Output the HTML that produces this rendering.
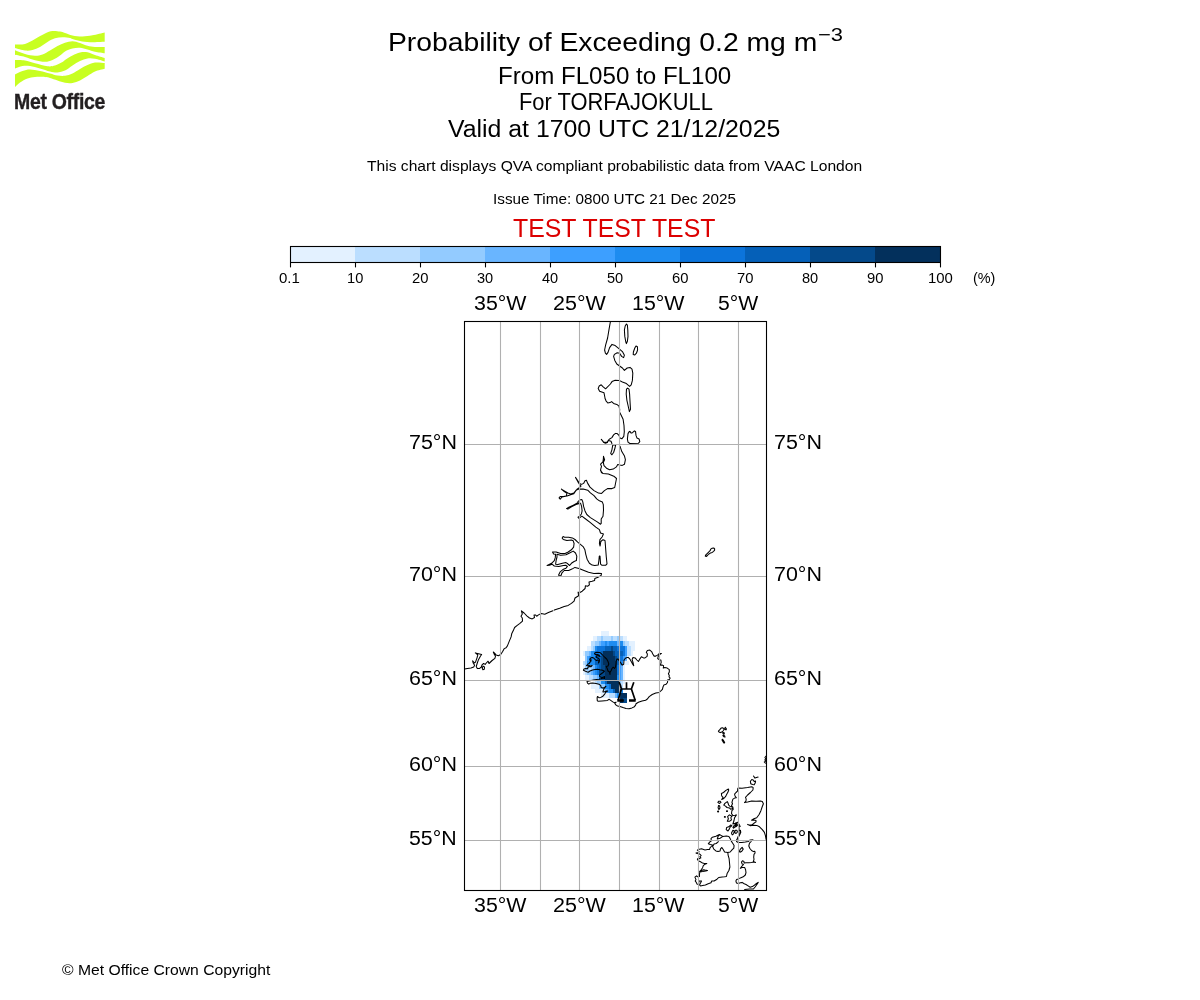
<!DOCTYPE html>
<html><head><meta charset="utf-8"><title>Probability of Exceeding 0.2 mg m-3</title>
<style>
html,body{margin:0;padding:0;background:#fff}
body{width:1200px;height:1000px;position:relative;overflow:hidden;font-family:"Liberation Sans",sans-serif}
.t{position:absolute;white-space:nowrap;line-height:1;transform-origin:0 0}
.txt{position:absolute;left:0;top:0;width:1200px;height:1000px;will-change:transform}
svg{position:absolute;left:0;top:0}
.logo{position:absolute;left:13.6px;top:91.3px;-webkit-text-stroke:0.4px #231f20;font-size:21.9px;font-weight:bold;color:#231f20;line-height:1;white-space:nowrap;transform-origin:0 0;transform:scaleX(0.89);letter-spacing:-0.35px}
</style></head><body>
<svg width="1200" height="1000" viewBox="0 0 1200 1000">
<path d="M15.00 44.50 C16.67 44.42 21.67 44.92 25.00 44.00 C28.33 43.08 31.67 40.75 35.00 39.00 C38.33 37.25 42.08 34.83 45.00 33.50 C47.92 32.17 50.00 31.33 52.50 31.00 C55.00 30.67 57.92 31.17 60.00 31.50 C62.08 31.83 62.92 32.33 65.00 33.00 C67.08 33.67 69.58 34.92 72.50 35.50 C75.42 36.08 79.17 36.53 82.50 36.50 C85.83 36.47 88.80 35.97 92.50 35.30 C96.20 34.63 102.67 32.97 104.70 32.50 L104.70 41.80 C102.25 41.88 94.12 42.43 90.00 42.30 C85.88 42.17 82.92 41.55 80.00 41.00 C77.08 40.45 74.17 39.50 72.50 39.00 C70.83 38.50 71.67 38.30 70.00 38.00 C68.33 37.70 65.00 37.15 62.50 37.20 C60.00 37.25 57.50 37.50 55.00 38.30 C52.50 39.10 50.00 40.55 47.50 42.00 C45.00 43.45 42.50 45.67 40.00 47.00 C37.50 48.33 35.00 49.42 32.50 50.00 C30.00 50.58 27.92 50.83 25.00 50.50 C22.08 50.17 16.67 48.42 15.00 48.00Z" fill="#c8ff21"/><path d="M15.00 50.30 C16.67 50.92 21.67 53.08 25.00 54.00 C28.33 54.92 32.08 55.72 35.00 55.80 C37.92 55.88 40.00 55.38 42.50 54.50 C45.00 53.62 47.50 51.92 50.00 50.50 C52.50 49.08 55.00 47.28 57.50 46.00 C60.00 44.72 62.50 43.58 65.00 42.80 C67.50 42.02 70.00 41.27 72.50 41.30 C75.00 41.33 77.50 42.25 80.00 43.00 C82.50 43.75 85.00 45.13 87.50 45.80 C90.00 46.47 92.13 46.80 95.00 47.00 C97.87 47.20 103.08 47.00 104.70 47.00 L104.70 53.30 C103.08 53.05 97.87 52.43 95.00 51.80 C92.13 51.17 90.00 50.17 87.50 49.50 C85.00 48.83 82.50 47.97 80.00 47.80 C77.50 47.63 75.00 47.88 72.50 48.50 C70.00 49.12 67.08 50.33 65.00 51.50 C62.92 52.67 62.08 54.08 60.00 55.50 C57.92 56.92 55.00 58.95 52.50 60.00 C50.00 61.05 47.92 61.75 45.00 61.80 C42.08 61.85 38.33 61.10 35.00 60.30 C31.67 59.50 28.33 57.92 25.00 57.00 C21.67 56.08 16.67 55.17 15.00 54.80Z" fill="#c8ff21"/><path d="M15.00 60.00 C16.67 60.08 21.67 59.95 25.00 60.50 C28.33 61.05 31.25 62.33 35.00 63.30 C38.75 64.27 44.17 65.93 47.50 66.30 C50.83 66.67 52.50 66.22 55.00 65.50 C57.50 64.78 60.83 62.92 62.50 62.00 C64.17 61.08 63.33 61.08 65.00 60.00 C66.67 58.92 70.00 56.75 72.50 55.50 C75.00 54.25 77.50 53.03 80.00 52.50 C82.50 51.97 85.00 51.88 87.50 52.30 C90.00 52.72 92.13 54.05 95.00 55.00 C97.87 55.95 103.08 57.50 104.70 58.00 L104.70 61.50 C103.08 61.05 97.87 59.30 95.00 58.80 C92.13 58.30 90.00 58.13 87.50 58.50 C85.00 58.87 82.50 59.83 80.00 61.00 C77.50 62.17 75.00 63.92 72.50 65.50 C70.00 67.08 67.50 69.33 65.00 70.50 C62.50 71.67 60.00 72.33 57.50 72.50 C55.00 72.67 52.92 72.17 50.00 71.50 C47.08 70.83 43.33 69.42 40.00 68.50 C36.67 67.58 32.92 66.42 30.00 66.00 C27.08 65.58 25.00 65.58 22.50 66.00 C20.00 66.42 16.25 68.08 15.00 68.50Z" fill="#c8ff21"/><path d="M15.00 74.50 C16.25 73.92 20.00 71.83 22.50 71.00 C25.00 70.17 27.08 69.50 30.00 69.50 C32.92 69.50 36.67 70.33 40.00 71.00 C43.33 71.67 47.08 72.75 50.00 73.50 C52.92 74.25 55.00 75.12 57.50 75.50 C60.00 75.88 62.50 76.13 65.00 75.80 C67.50 75.47 70.00 74.63 72.50 73.50 C75.00 72.37 77.50 70.42 80.00 69.00 C82.50 67.58 85.00 66.08 87.50 65.00 C90.00 63.92 92.13 62.83 95.00 62.50 C97.87 62.17 103.08 62.92 104.70 63.00 L104.70 68.80 C103.08 69.25 97.87 70.30 95.00 71.50 C92.13 72.70 90.00 74.50 87.50 76.00 C85.00 77.50 82.50 79.33 80.00 80.50 C77.50 81.67 75.00 82.62 72.50 83.00 C70.00 83.38 67.50 83.22 65.00 82.80 C62.50 82.38 60.00 81.30 57.50 80.50 C55.00 79.70 52.08 78.58 50.00 78.00 C47.92 77.42 47.50 77.17 45.00 77.00 C42.50 76.83 37.92 76.75 35.00 77.00 C32.08 77.25 30.00 77.58 27.50 78.50 C25.00 79.42 22.08 81.08 20.00 82.50 C17.92 83.92 15.83 86.25 15.00 87.00Z" fill="#c8ff21"/><g shape-rendering="crispEdges"><rect x="290" y="246" width="66" height="17" fill="#e3f1ff"/><rect x="355" y="246" width="66" height="17" fill="#bbdeff"/><rect x="420" y="246" width="66" height="17" fill="#93cbff"/><rect x="485" y="246" width="66" height="17" fill="#69b5ff"/><rect x="550" y="246" width="66" height="17" fill="#3d9fff"/><rect x="615" y="246" width="66" height="17" fill="#1e8cf0"/><rect x="680" y="246" width="66" height="17" fill="#0c74db"/><rect x="745" y="246" width="66" height="17" fill="#0560b8"/><rect x="810" y="246" width="66" height="17" fill="#04498a"/><rect x="875" y="246" width="65" height="17" fill="#03305c"/></g><rect x="290.5" y="246.5" width="650" height="16" fill="none" stroke="#000" stroke-width="1.1"/><line x1="290.5" y1="262.5" x2="290.5" y2="267.4" stroke="#000" stroke-width="1.1"/><line x1="355.5" y1="262.5" x2="355.5" y2="267.4" stroke="#000" stroke-width="1.1"/><line x1="420.5" y1="262.5" x2="420.5" y2="267.4" stroke="#000" stroke-width="1.1"/><line x1="485.5" y1="262.5" x2="485.5" y2="267.4" stroke="#000" stroke-width="1.1"/><line x1="550.5" y1="262.5" x2="550.5" y2="267.4" stroke="#000" stroke-width="1.1"/><line x1="615.5" y1="262.5" x2="615.5" y2="267.4" stroke="#000" stroke-width="1.1"/><line x1="680.5" y1="262.5" x2="680.5" y2="267.4" stroke="#000" stroke-width="1.1"/><line x1="745.5" y1="262.5" x2="745.5" y2="267.4" stroke="#000" stroke-width="1.1"/><line x1="810.5" y1="262.5" x2="810.5" y2="267.4" stroke="#000" stroke-width="1.1"/><line x1="875.5" y1="262.5" x2="875.5" y2="267.4" stroke="#000" stroke-width="1.1"/><line x1="940.5" y1="262.5" x2="940.5" y2="267.4" stroke="#000" stroke-width="1.1"/><defs><clipPath id="ax"><rect x="464.5" y="321.5" width="302.0" height="569.0"/></clipPath></defs><g clip-path="url(#ax)"><g shape-rendering="crispEdges"><rect x="601.28" y="630.95" width="7.97" height="4.80" fill="#e3f1ff"/><rect x="593.36" y="635.70" width="4.01" height="5.25" fill="#e3f1ff"/><rect x="597.32" y="635.70" width="4.01" height="5.25" fill="#bbdeff"/><rect x="601.28" y="635.70" width="2.03" height="5.25" fill="#93cbff"/><rect x="603.26" y="635.70" width="7.97" height="5.25" fill="#bbdeff"/><rect x="611.18" y="635.70" width="2.03" height="5.25" fill="#93cbff"/><rect x="613.16" y="635.70" width="4.01" height="5.25" fill="#bbdeff"/><rect x="617.12" y="635.70" width="2.03" height="5.25" fill="#93cbff"/><rect x="619.10" y="635.70" width="4.01" height="5.25" fill="#bbdeff"/><rect x="623.06" y="635.70" width="4.01" height="5.25" fill="#e3f1ff"/><rect x="591.38" y="640.90" width="4.01" height="5.05" fill="#bbdeff"/><rect x="595.34" y="640.90" width="4.01" height="5.05" fill="#93cbff"/><rect x="599.30" y="640.90" width="2.03" height="5.05" fill="#69b5ff"/><rect x="601.28" y="640.90" width="4.01" height="5.05" fill="#3d9fff"/><rect x="605.24" y="640.90" width="2.03" height="5.05" fill="#1e8cf0"/><rect x="607.22" y="640.90" width="2.03" height="5.05" fill="#3d9fff"/><rect x="609.20" y="640.90" width="7.97" height="5.05" fill="#1e8cf0"/><rect x="617.12" y="640.90" width="2.03" height="5.05" fill="#69b5ff"/><rect x="619.10" y="640.90" width="4.01" height="5.05" fill="#1e8cf0"/><rect x="623.06" y="640.90" width="2.03" height="5.05" fill="#93cbff"/><rect x="625.04" y="640.90" width="4.01" height="5.05" fill="#bbdeff"/><rect x="629.00" y="640.90" width="5.99" height="5.05" fill="#e3f1ff"/><rect x="587.42" y="645.90" width="4.01" height="5.05" fill="#e3f1ff"/><rect x="591.38" y="645.90" width="2.03" height="5.05" fill="#bbdeff"/><rect x="593.36" y="645.90" width="2.03" height="5.05" fill="#93cbff"/><rect x="595.34" y="645.90" width="2.03" height="5.05" fill="#1e8cf0"/><rect x="597.32" y="645.90" width="7.97" height="5.05" fill="#0c74db"/><rect x="605.24" y="645.90" width="5.99" height="5.05" fill="#0560b8"/><rect x="611.18" y="645.90" width="2.03" height="5.05" fill="#04498a"/><rect x="613.16" y="645.90" width="4.01" height="5.05" fill="#0560b8"/><rect x="617.12" y="645.90" width="2.03" height="5.05" fill="#0c74db"/><rect x="619.10" y="645.90" width="5.99" height="5.05" fill="#0c74db"/><rect x="625.04" y="645.90" width="2.03" height="5.05" fill="#3d9fff"/><rect x="627.02" y="645.90" width="4.01" height="5.05" fill="#bbdeff"/><rect x="630.98" y="645.90" width="4.01" height="5.05" fill="#e3f1ff"/><rect x="583.46" y="650.90" width="2.03" height="4.95" fill="#e3f1ff"/><rect x="585.44" y="650.90" width="4.01" height="4.95" fill="#93cbff"/><rect x="589.40" y="650.90" width="2.03" height="4.95" fill="#69b5ff"/><rect x="591.38" y="650.90" width="4.01" height="4.95" fill="#1e8cf0"/><rect x="595.34" y="650.90" width="5.99" height="4.95" fill="#0c74db"/><rect x="601.28" y="650.90" width="2.03" height="4.95" fill="#0560b8"/><rect x="603.26" y="650.90" width="9.95" height="4.95" fill="#03305c"/><rect x="613.16" y="650.90" width="2.03" height="4.95" fill="#04498a"/><rect x="615.14" y="650.90" width="4.01" height="4.95" fill="#0560b8"/><rect x="619.10" y="650.90" width="4.01" height="4.95" fill="#0560b8"/><rect x="623.06" y="650.90" width="2.03" height="4.95" fill="#0c74db"/><rect x="625.04" y="650.90" width="2.03" height="4.95" fill="#3d9fff"/><rect x="627.02" y="650.90" width="4.01" height="4.95" fill="#bbdeff"/><rect x="630.98" y="650.90" width="2.03" height="4.95" fill="#e3f1ff"/><rect x="585.44" y="655.80" width="2.03" height="4.85" fill="#93cbff"/><rect x="587.42" y="655.80" width="2.03" height="4.85" fill="#3d9fff"/><rect x="589.40" y="655.80" width="5.99" height="4.85" fill="#1e8cf0"/><rect x="595.34" y="655.80" width="2.03" height="4.85" fill="#0c74db"/><rect x="597.32" y="655.80" width="4.01" height="4.85" fill="#0560b8"/><rect x="601.28" y="655.80" width="2.03" height="4.85" fill="#04498a"/><rect x="603.26" y="655.80" width="11.93" height="4.85" fill="#03305c"/><rect x="615.14" y="655.80" width="2.03" height="4.85" fill="#04498a"/><rect x="617.12" y="655.80" width="2.03" height="4.85" fill="#0560b8"/><rect x="619.10" y="655.80" width="4.01" height="4.85" fill="#0c74db"/><rect x="623.06" y="655.80" width="2.03" height="4.85" fill="#3d9fff"/><rect x="625.04" y="655.80" width="2.03" height="4.85" fill="#69b5ff"/><rect x="583.46" y="660.60" width="2.03" height="4.85" fill="#bbdeff"/><rect x="585.44" y="660.60" width="2.03" height="4.85" fill="#93cbff"/><rect x="587.42" y="660.60" width="7.97" height="4.85" fill="#1e8cf0"/><rect x="595.34" y="660.60" width="5.99" height="4.85" fill="#0560b8"/><rect x="601.28" y="660.60" width="2.03" height="4.85" fill="#04498a"/><rect x="603.26" y="660.60" width="13.91" height="4.85" fill="#03305c"/><rect x="617.12" y="660.60" width="2.03" height="4.85" fill="#0560b8"/><rect x="619.10" y="660.60" width="4.01" height="4.85" fill="#1e8cf0"/><rect x="623.06" y="660.60" width="5.99" height="4.85" fill="#e3f1ff"/><rect x="583.46" y="665.40" width="2.03" height="4.75" fill="#e3f1ff"/><rect x="585.44" y="665.40" width="4.01" height="4.75" fill="#93cbff"/><rect x="589.40" y="665.40" width="2.03" height="4.75" fill="#bbdeff"/><rect x="591.38" y="665.40" width="2.03" height="4.75" fill="#93cbff"/><rect x="593.36" y="665.40" width="2.03" height="4.75" fill="#69b5ff"/><rect x="595.34" y="665.40" width="2.03" height="4.75" fill="#1e8cf0"/><rect x="597.32" y="665.40" width="2.03" height="4.75" fill="#0c74db"/><rect x="599.30" y="665.40" width="2.03" height="4.75" fill="#0560b8"/><rect x="601.28" y="665.40" width="4.01" height="4.75" fill="#04498a"/><rect x="605.24" y="665.40" width="11.93" height="4.75" fill="#03305c"/><rect x="617.12" y="665.40" width="2.03" height="4.75" fill="#0c74db"/><rect x="619.10" y="665.40" width="2.03" height="4.75" fill="#3d9fff"/><rect x="621.08" y="665.40" width="2.03" height="4.75" fill="#69b5ff"/><rect x="623.06" y="665.40" width="2.03" height="4.75" fill="#e3f1ff"/><rect x="583.46" y="670.10" width="2.03" height="4.75" fill="#e3f1ff"/><rect x="585.44" y="670.10" width="2.03" height="4.75" fill="#bbdeff"/><rect x="587.42" y="670.10" width="4.01" height="4.75" fill="#93cbff"/><rect x="591.38" y="670.10" width="2.03" height="4.75" fill="#69b5ff"/><rect x="593.36" y="670.10" width="2.03" height="4.75" fill="#3d9fff"/><rect x="595.34" y="670.10" width="2.03" height="4.75" fill="#1e8cf0"/><rect x="597.32" y="670.10" width="2.03" height="4.75" fill="#0c74db"/><rect x="599.30" y="670.10" width="5.99" height="4.75" fill="#04498a"/><rect x="605.24" y="670.10" width="11.93" height="4.75" fill="#03305c"/><rect x="617.12" y="670.10" width="2.03" height="4.75" fill="#0c74db"/><rect x="619.10" y="670.10" width="2.03" height="4.75" fill="#3d9fff"/><rect x="621.08" y="670.10" width="2.03" height="4.75" fill="#69b5ff"/><rect x="623.06" y="670.10" width="2.03" height="4.75" fill="#e3f1ff"/><rect x="585.44" y="674.80" width="4.01" height="4.75" fill="#e3f1ff"/><rect x="589.40" y="674.80" width="4.01" height="4.75" fill="#bbdeff"/><rect x="593.36" y="674.80" width="4.01" height="4.75" fill="#93cbff"/><rect x="597.32" y="674.80" width="2.03" height="4.75" fill="#69b5ff"/><rect x="599.30" y="674.80" width="2.03" height="4.75" fill="#0560b8"/><rect x="601.28" y="674.80" width="4.01" height="4.75" fill="#04498a"/><rect x="605.24" y="674.80" width="11.93" height="4.75" fill="#03305c"/><rect x="617.12" y="674.80" width="2.03" height="4.75" fill="#1e8cf0"/><rect x="619.10" y="674.80" width="2.03" height="4.75" fill="#3d9fff"/><rect x="621.08" y="674.80" width="2.03" height="4.75" fill="#69b5ff"/><rect x="623.06" y="674.80" width="2.03" height="4.75" fill="#e3f1ff"/><rect x="593.36" y="679.50" width="2.03" height="4.75" fill="#e3f1ff"/><rect x="595.34" y="679.50" width="2.03" height="4.75" fill="#bbdeff"/><rect x="597.32" y="679.50" width="4.01" height="4.75" fill="#93cbff"/><rect x="601.28" y="679.50" width="4.01" height="4.75" fill="#1e8cf0"/><rect x="605.24" y="679.50" width="2.03" height="4.75" fill="#0560b8"/><rect x="607.22" y="679.50" width="11.93" height="4.75" fill="#03305c"/><rect x="619.10" y="679.50" width="2.03" height="4.75" fill="#93cbff"/><rect x="621.08" y="679.50" width="2.03" height="4.75" fill="#bbdeff"/><rect x="623.06" y="679.50" width="2.03" height="4.75" fill="#e3f1ff"/><rect x="591.38" y="684.20" width="7.97" height="4.65" fill="#e3f1ff"/><rect x="599.30" y="684.20" width="5.99" height="4.65" fill="#93cbff"/><rect x="605.24" y="684.20" width="4.01" height="4.65" fill="#1e8cf0"/><rect x="609.20" y="684.20" width="2.03" height="4.65" fill="#0c74db"/><rect x="611.18" y="684.20" width="7.97" height="4.65" fill="#03305c"/><rect x="619.10" y="684.20" width="2.03" height="4.65" fill="#93cbff"/><rect x="621.08" y="684.20" width="2.03" height="4.65" fill="#bbdeff"/><rect x="595.34" y="688.80" width="7.97" height="4.65" fill="#e3f1ff"/><rect x="603.26" y="688.80" width="2.03" height="4.65" fill="#bbdeff"/><rect x="605.24" y="688.80" width="2.03" height="4.65" fill="#69b5ff"/><rect x="607.22" y="688.80" width="2.03" height="4.65" fill="#3d9fff"/><rect x="609.20" y="688.80" width="4.01" height="4.65" fill="#1e8cf0"/><rect x="613.16" y="688.80" width="2.03" height="4.65" fill="#0560b8"/><rect x="615.14" y="688.80" width="4.01" height="4.65" fill="#03305c"/><rect x="619.10" y="688.80" width="2.03" height="4.65" fill="#04498a"/><rect x="621.08" y="688.80" width="2.03" height="4.65" fill="#1e8cf0"/><rect x="601.28" y="693.40" width="7.97" height="4.65" fill="#e3f1ff"/><rect x="609.20" y="693.40" width="5.99" height="4.65" fill="#bbdeff"/><rect x="615.14" y="693.40" width="2.03" height="4.65" fill="#69b5ff"/><rect x="617.12" y="693.40" width="2.03" height="4.65" fill="#1e8cf0"/><rect x="619.10" y="693.40" width="7.97" height="4.65" fill="#03305c"/><rect x="619.10" y="698.00" width="4.01" height="4.55" fill="#03305c"/><rect x="623.06" y="698.00" width="4.01" height="4.55" fill="#04498a"/></g><path d="M610.4 321.6 L609.2 328.4 L607.6 338.0 L605.6 345.2 L604.6 350.0 L605.4 353.2 L606.6 354.4 L608.0 352.4 L609.6 347.6 L612.0 344.4 L615.2 345.6 L619.2 348.8 L622.4 351.6 L624.4 355.2 L623.6 357.6 L621.6 356.4 L619.6 353.2 L617.2 352.8 L614.4 354.4 L613.6 356.4 L614.8 360.4 L616.8 364.0 L619.6 366.0 L622.4 368.0 L624.4 370.4 L627.2 368.0 L630.0 367.4 L632.0 369.2 L632.8 373.2 L632.4 380.4 L631.2 384.8 L629.6 386.4 L626.4 383.6 L622.4 382.0 L619.2 380.4 L615.2 380.2 L612.0 381.6 L610.4 384.0 L605.6 388.8 L603.2 386.8 L601.2 384.8 L599.2 386.0 L598.2 388.4 L599.6 391.2 L604.0 392.8 L605.0 398.0 M626.4 324.0 L625.2 326.0 L624.4 330.0 L624.8 336.4 L625.8 342.0 L626.4 343.6 L627.4 341.2 L628.0 336.4 L627.8 330.0 L627.4 325.2Z M636.0 346.0 L634.8 348.0 L633.4 352.0 L633.2 354.4 L634.8 355.0 L636.4 353.2 L637.6 350.0 L637.4 346.8Z M604.9 398.0 L606.0 400.8 L607.8 403.0 L610.0 402.6 L611.6 401.6 L613.6 403.4 L616.8 404.4 L619.0 406.1 L619.7 409.3 L619.5 412.0 L621.3 415.6 L623.1 419.2 L624.0 425.5 L624.3 431.8 L623.8 436.3 L621.8 438.8 L620.0 438.1 L619.0 435.4 L617.2 433.6 L615.5 433.4 L613.6 434.9 L611.9 437.6 L609.6 439.0 L608.2 440.4 L607.4 442.6 L605.5 443.3 L603.8 442.6 L602.4 440.8 L601.3 439.4 L603.5 441.9 L606.5 442.4 L608.7 440.6 L611.0 441.2 L611.9 443.5 M612.8 444.9 L611.9 449.8 L610.7 453.4 L611.9 454.8 L613.6 452.5 L615.0 448.0 L615.7 444.9Z M620.0 446.2 L621.8 451.6 L624.5 456.1 L625.4 459.7 L624.5 464.2 L622.2 465.4 L620.0 465.1 L617.7 464.6 L616.4 466.9 L613.2 469.1 L609.6 469.8 L606.5 468.2 L604.0 465.6 L603.3 462.4 L604.6 459.7 L603.5 456.3 L603.3 459.7 L602.9 461.9 L600.6 464.2 L601.5 466.4 L600.6 469.6 L601.5 472.8 M629.4 431.4 L628.0 433.6 L627.4 439.0 L628.0 442.1 L629.9 443.5 L638.4 443.3 L639.8 441.7 L639.1 439.0 L637.0 438.1 L636.0 435.4 L635.5 431.4 L634.4 430.9 L632.5 432.7 L631.2 433.1 L630.1 431.6Z M626.5 389.1 L626.2 394.0 L626.9 400.3 L628.5 407.5 L629.4 411.6 L630.5 409.3 L630.1 403.0 L629.6 394.0 L629.0 389.1 L627.6 388.1Z M600.5 470.6 L603.0 473.6 L608.4 474.0 L613.8 476.2 L616.5 478.5 L615.6 483.0 L614.7 487.5 L612.0 488.6 L607.5 488.6 L604.4 490.6 L601.6 493.4 L598.5 493.1 L594.0 490.6 L590.0 487.1 L587.7 483.4 L586.4 480.3 L585.0 480.8 L583.6 483.4 L581.6 484.4 L579.6 483.4 L577.8 480.8 L575.5 477.4 L577.8 481.6 L579.6 484.4 L581.0 486.1 L579.6 487.5 L577.4 488.9 L575.5 491.1 L573.8 493.8 L570.6 494.7 L567.0 496.1 L564.3 496.5 L562.0 496.9 L560.2 499.2 L559.1 497.9 L560.2 496.5 L563.4 496.5 L566.1 496.1 L567.0 493.4 L564.3 491.6 L561.4 489.1 L564.8 491.1 L567.9 492.9 L570.6 494.0 L573.8 493.1 L576.0 490.2 L578.7 489.1 L583.2 489.1 L587.7 490.2 L590.4 492.9 L594.0 495.6 L596.7 498.8 L599.4 500.8 L602.4 502.1 L603.3 504.6 L603.5 510.0 L603.0 516.3 L601.2 519.0 L601.2 523.5 L600.5 524.2 L597.6 522.1 L594.0 519.9 L590.4 517.6 L586.8 514.5 L585.0 510.9 L583.6 506.4 L582.8 501.9 L581.9 499.6 L579.6 500.1 L577.8 501.9 L578.7 503.7 L576.0 504.6 L571.5 506.9 L567.9 509.1 L566.5 508.6 L568.8 507.3 L573.3 505.1 L577.8 502.8 L580.5 503.2 L581.6 506.4 L582.1 510.9 L581.4 514.0 L579.6 516.1 L578.0 517.2 L578.9 518.3 L581.9 516.1 L585.0 518.5 L590.4 522.6 L595.8 527.1 L599.4 529.6 L600.5 533.0 L603.5 533.9 L602.1 537.0 L599.9 539.7 L599.4 543.3 L600.1 546.0 L600.8 541.5 L603.0 539.7 L605.0 540.6 M605.1 541.2 L605.6 548.0 L606.3 557.0 L607.0 563.8 L605.6 565.3 L602.0 565.3 L600.6 564.2 L600.0 556.1 L599.3 556.1 L598.9 560.6 L598.2 565.1 L594.8 565.5 L592.1 565.1 L589.4 563.3 L587.1 559.2 L585.8 554.3 L584.9 549.8 L583.1 546.6 L580.4 544.4 L577.7 542.1 L575.0 539.5 L572.3 537.9 L568.7 537.2 L564.6 537.2 L563.1 536.5 L562.2 538.1 L563.3 539.5 L566.9 540.4 L571.4 540.1 L573.2 540.8 L574.1 543.5 L573.6 547.1 L571.4 549.8 L568.2 552.0 L565.1 553.4 L560.6 553.6 L556.1 552.0 L552.5 552.0 L553.6 553.9 L555.6 554.3 L555.2 557.9 L554.3 560.6 L551.6 563.3 L547.1 565.5 L549.4 565.3 L552.0 564.2 L554.3 566.0 L558.8 566.5 L563.3 565.5 L566.0 565.3 L567.4 566.5 L566.0 568.2 L562.9 569.6 L560.1 571.9 L558.6 575.0 L559.2 575.9 L561.0 575.5 L562.0 572.8 L564.2 570.5 L568.7 570.5 L571.9 569.1 L575.0 567.4 L579.0 568.5 L584.0 570.5 L588.5 572.3 L593.9 573.4 L598.4 573.2 L601.5 573.6 L601.1 575.5 L598.0 577.2 L594.8 578.6 L594.6 580.4 L592.1 581.3 L589.0 582.0 L589.4 584.9 L587.6 586.2 L585.4 585.8 L585.1 588.5 L582.2 591.2 L579.0 593.0 L578.1 592.1 L578.6 595.7 L575.0 598.0 L574.1 601.1 L571.4 603.4 L568.2 605.4 L564.2 606.5 L559.7 608.3 L554.3 610.1 M557.0 554.3 L560.6 555.2 L566.0 554.8 L569.6 553.0 L573.2 551.1 L575.5 553.0 L576.8 556.1 L576.4 560.6 L574.1 561.5 L571.4 563.3 L569.6 565.5 L567.8 563.8 L566.0 562.6 L562.4 563.3 L557.9 564.6 L555.6 564.2 L556.1 560.6 L557.0 557.0Z M552.9 610.8 L548.4 612.6 L544.8 614.2 L541.2 613.5 L538.5 614.9 L536.7 616.2 L535.4 614.9 L534.0 614.9 L534.5 617.5 L532.2 618.9 L529.5 618.0 L526.8 615.8 L524.1 613.0 L521.4 610.8 L522.3 614.0 L521.0 616.2 L522.3 618.0 L522.5 621.1 L519.6 623.6 L516.9 625.6 L514.6 627.5 L513.3 630.6 L511.7 633.8 L511.1 636.9 L509.2 641.4 L507.4 645.9 L506.1 647.7 L504.3 648.6 L502.5 651.8 L500.7 654.5 L498.4 655.8 L496.2 655.1 L494.6 653.1 L493.3 652.0 L494.4 654.5 L495.5 656.2 L494.9 658.3 L492.1 660.5 L489.0 663.5 L488.1 661.2 L486.3 663.0 L485.2 664.4 L483.6 663.5 L482.0 664.8 L481.4 667.0 L479.6 668.4 L477.3 668.6 L476.2 666.6 L477.3 663.0 L478.6 659.4 L480.4 656.2 L481.6 654.5 L478.6 653.7 L475.3 652.9 L477.8 654.9 L477.1 657.6 L475.5 662.1 L474.6 663.0 L472.6 660.8 L473.2 663.0 L474.6 665.2 L473.7 667.0 L471.0 668.0 L467.4 668.4 L464.7 668.9 M483.1 666.1 L482.2 668.0 L482.9 669.8 L484.3 669.3 L484.5 667.0Z M736.4 840.5 L737.1 839.0 L738.1 836.6 L739.5 834.5 L740.2 831.7 L739.2 830.3 L738.9 826.8 L740.2 826.5 L738.9 824.0 L736.4 826.5 L735.0 827.1 L735.7 825.0 L737.8 822.2 L735.0 823.3 L732.9 824.0 L734.0 820.5 L734.6 817.7 L736.4 814.9 L735.0 815.2 L732.9 815.6 L731.5 813.5 L731.9 810.7 L733.2 809.3 L732.9 807.2 L731.5 805.8 L732.5 803.7 L731.9 802.3 L732.9 799.1 L734.6 798.1 L736.4 797.8 L735.0 796.0 L734.6 794.2 L736.0 792.5 L737.5 791.1 L737.8 788.3 L738.9 788.0 L742.0 788.3 L747.6 787.5 L751.8 786.8 L753.2 787.6 L752.9 790.0 L750.4 792.5 L747.6 795.0 L745.5 797.4 L746.2 799.1 L745.9 801.2 L744.5 802.6 L747.6 802.0 L751.8 800.9 L756.0 801.2 L760.2 800.9 L762.3 801.6 L763.4 803.7 L762.3 806.5 L760.9 810.7 L759.1 814.5 L756.7 817.7 L753.9 818.8 L751.5 820.1 L753.9 820.1 L756.0 820.5 L756.0 821.9 L753.9 823.3 L751.8 825.0 L749.0 825.0 L747.6 824.4 L750.4 825.8 L753.2 825.3 L756.7 825.4 L759.5 826.8 L762.3 829.6 L764.4 832.4 L765.5 835.9 L766.1 839.4 M728.4 789.0 L725.9 790.4 L723.5 792.5 L721.4 793.5 L721.7 796.0 L723.1 797.4 L721.7 799.5 L723.8 798.5 L725.5 796.7 L726.6 794.6 L728.0 792.1 L728.7 790.0Z M718.5 801.2 L717.9 802.6 L719.6 803.4 L721.0 802.3 L720.0 801.2Z M718.5 805.5 L718.1 807.9 L718.9 809.6 L720.0 807.9 L719.6 805.8Z M727.3 801.6 L724.9 803.4 L723.8 805.1 L725.5 806.1 L727.0 807.5 L729.4 807.9 L730.8 809.3 L732.5 808.6 L732.9 807.2 L730.1 806.5 L728.7 805.1 L728.0 803.0Z M729.4 814.9 L727.6 816.6 L728.4 818.8 L727.3 821.2 L729.8 821.2 L731.5 819.8 L730.8 817.7 L731.9 816.3Z M730.8 825.0 L728.7 826.8 L726.6 827.5 L726.2 829.6 L728.0 831.0 L729.4 828.9 L730.1 827.1 L731.9 825.8Z M736.4 823.3 L734.3 825.4 L732.9 827.5 L733.6 828.2 L735.4 826.5 L737.1 824.4Z M732.9 830.3 L731.5 833.1 L732.2 834.9 L733.6 833.8 L734.3 831.0Z M735.4 830.3 L734.6 832.4 L736.0 833.5 L737.5 832.0 L736.8 830.3Z M751.8 779.5 L750.4 781.3 L750.8 783.8 L752.5 784.5 L754.2 784.8 L755.3 782.7 L755.6 781.0 L754.2 781.6 L753.2 779.9Z M753.5 776.0 L755.0 778.1 L758.1 777.1 M717.9 811.0 L717.5 811.8 L718.3 812.0 L718.6 811.3Z M726.6 810.7 L726.5 811.5 L727.4 811.5 L727.4 810.7Z M724.5 816.4 L724.4 817.3 L725.3 817.3 L725.3 816.4Z M719.4 834.5 L721.9 835.9 L722.9 836.5 L726.4 836.1 L728.9 836.5 L730.2 838.6 L731.3 841.1 L732.7 843.2 L734.1 845.6 L733.8 848.1 L732.0 849.9 L730.2 852.0 L727.8 852.4 L728.1 855.1 L729.1 858.6 L729.5 862.8 L729.9 867.0 L728.9 870.5 L727.1 873.6 L726.4 876.5 L724.6 876.8 L722.2 876.9 L718.7 877.5 L717.0 879.2 L714.1 881.0 L711.7 881.0 L711.0 882.8 L708.2 883.8 L705.4 885.1 L702.6 885.5 L700.5 885.9 L699.5 884.9 L700.5 883.1 L701.5 881.0 L699.1 881.0 L698.4 884.5 L697.0 884.1 L696.3 882.4 L695.2 881.0 L696.0 879.6 L694.9 877.1 L696.6 875.8 L697.7 876.8 L699.5 876.5 L699.5 874.0 L699.8 871.9 L702.6 871.5 L705.8 870.9 L707.5 870.4 L705.0 870.1 L703.3 869.8 L701.2 870.9 L699.5 871.5 L701.2 869.8 L702.6 867.7 L703.3 865.6 L705.0 864.2 L706.8 863.5 L704.4 863.4 L702.6 863.1 L700.5 861.8 L698.8 861.0 L697.4 859.6 L697.7 858.6 L699.5 858.6 L700.9 857.9 L699.8 856.9 L701.2 855.5 L700.1 854.4 L699.1 853.7 L697.0 853.4 L696.0 853.0 L698.4 852.6 L699.1 851.6 L697.4 850.2 L698.4 849.5 L701.5 848.8 L705.0 849.9 L707.5 849.5 L709.6 849.4 L710.0 847.8 L711.7 846.0 L712.4 845.0 L710.3 844.6 L708.3 843.8 L709.6 842.1 L711.4 840.8 L711.0 838.6 L712.4 837.2 L715.9 836.2Z M712.4 846.0 L713.8 849.1 L715.9 850.9 L718.0 851.6 L720.1 850.9 L720.5 848.8 L721.9 847.5 L723.2 849.5 L724.6 852.0 L727.8 852.4 M719.4 834.8 L718.0 836.5 L717.3 839.0 L720.1 838.3 L722.2 836.9 M718.4 841.7 L716.2 843.5 L714.1 844.0 L713.1 845.6 M740.4 830.2 L740.8 832.4 L739.7 834.8 L738.3 837.6 L736.9 839.7 L736.5 841.5 L738.3 842.5 L741.8 842.5 L745.3 842.1 L748.1 841.5 L750.2 840.0 L753.0 839.7 M751.2 841.5 L749.5 843.2 L748.8 846.0 L749.9 848.5 L751.6 850.5 L753.4 851.6 L754.8 851.2 L755.1 853.0 L754.0 854.4 L753.7 857.2 L754.0 859.3 L753.4 861.4 L755.5 862.5 L753.4 862.1 L751.6 862.5 L748.8 862.8 L746.0 862.8 L744.2 863.1 L743.9 861.4 L742.5 860.7 L741.5 862.1 L742.1 863.9 L743.5 864.5 L741.8 866.3 L740.4 868.4 L742.5 867.4 L744.6 867.4 L745.6 869.8 L746.0 872.6 L745.3 875.0 L743.2 876.8 L740.4 877.9 L738.3 878.9 L736.5 879.6 L735.9 881.0 L736.5 883.1 L738.3 883.5 L740.4 882.8 L742.1 882.4 L744.2 883.8 L746.0 884.5 L748.1 885.9 L750.2 887.3 L752.3 886.6 L754.4 885.2 L756.5 883.5 L758.2 882.4 L756.9 884.5 L755.1 887.0 L753.4 889.0 L749.5 889.0 L744.6 889.4 M742.1 847.4 L740.4 849.1 L739.4 851.2 L740.0 852.3 L741.8 851.2 L743.2 849.1Z M713.7 548.0 L711.9 548.3 L710.7 549.2 L710.1 550.7 L708.9 551.9 L707.4 553.4 L705.6 555.2 L705.3 556.1 L706.2 556.5 L707.4 555.5 L708.9 554.0 L710.4 553.1 L712.2 552.4 L713.7 551.3 L714.6 550.1 L714.6 548.6Z M718.4 731.1 L719.6 729.9 L721.1 728.1 L722.9 727.8 L724.1 729.0 L723.5 730.5 L722.0 732.0 L720.2 732.6 L719.0 732.0Z M725.3 727.2 L726.5 729.0 L725.9 729.9 L724.7 729.0Z M722.9 732.3 L724.4 732.9 L724.1 734.1 L722.9 733.5Z M723.2 735.0 L724.7 735.9 L725.0 737.1 L723.8 736.8 L722.9 735.6Z M722.3 739.2 L723.5 740.4 L724.7 742.5 L724.1 743.1 L722.9 741.6 L722.0 740.1Z M766.1 756.0 L764.9 757.5 L765.8 758.7 L764.9 759.9 L765.8 761.1 L764.3 762.0 L765.2 762.9 L766.4 763.2 M618.0 659.1 L620.4 662.4 L622.2 665.1 L623.7 664.2 L624.0 660.0 L625.8 657.9 L628.2 657.3 L629.7 658.8 L631.2 661.5 L633.0 664.8 L633.7 665.7 L633.0 662.4 L632.1 659.4 L633.0 657.6 L635.1 657.9 L636.9 660.0 L638.4 661.5 L639.6 659.4 L641.4 656.7 L643.5 657.9 L645.0 657.9 L647.1 656.4 L647.4 654.0 L646.3 652.2 L647.4 650.4 L649.8 650.1 L651.6 651.6 L652.8 654.0 L654.0 656.1 L655.8 656.1 L657.9 654.9 L659.4 653.4 L661.5 653.4 L660.0 654.3 L658.2 656.4 L657.7 658.5 L659.1 659.7 L660.9 660.0 L661.2 662.4 L660.3 665.1 L662.4 665.1 L663.6 665.7 L663.3 668.1 L664.8 667.5 L667.2 668.1 L669.3 669.6 L669.3 672.0 L668.4 673.8 L669.3 675.6 L669.0 676.8 L670.2 678.0 L669.3 679.5 L667.8 679.8 L667.5 682.5 L666.0 684.3 L663.9 684.9 L663.0 687.0 L662.4 689.4 L660.6 691.2 L659.1 692.4 L655.8 693.0 L652.2 694.5 L649.2 696.6 L647.4 699.0 L645.6 700.2 L642.0 701.1 L638.4 702.3 L636.0 703.8 L635.6 705.2 L634.4 706.7 L632.0 707.9 L629.0 708.8 L626.0 708.5 L623.0 707.6 L620.0 706.4 L617.6 706.1 L615.8 704.9 L614.9 703.4 L616.1 702.2 L614.6 702.8 L612.8 701.9 L610.7 700.4 L609.2 699.3 L607.4 700.4 L602.0 700.9 L598.1 701.3 L597.3 700.7 L597.1 698.0 L597.5 696.5 L599.0 697.7 L600.8 697.4 L602.9 696.2 L604.7 694.1 L605.9 692.0 L607.7 691.1 L606.5 691.1 L604.4 691.7 L602.9 692.0 L603.5 689.9 L604.4 688.1 L605.9 686.3 L604.7 687.2 L602.9 688.1 L601.1 687.5 L600.8 685.7 L599.0 684.2 L596.0 683.6 L592.4 683.0 L590.0 683.3 L588.8 684.2 L587.5 683.2 L587.0 681.5 L590.0 680.8 L593.5 679.9 L596.5 679.5 L599.0 679.2 L601.0 678.8 L603.0 678.0 L604.5 678.5 L604.5 676.4 L603.5 677.0 L602.0 677.4 L600.5 677.0 L599.5 676.2 L599.8 675.0 L601.0 674.0 L603.0 672.5 L604.5 671.2 L602.5 670.2 L600.0 669.8 L597.5 669.2 L595.0 669.5 L592.5 670.0 L590.0 671.0 L588.2 672.2 L586.8 671.8 L585.0 671.0 L583.4 670.2 L584.0 669.0 L585.8 668.5 L587.5 668.8 L588.0 667.2 L589.5 666.5 L590.8 666.8 L592.2 665.5 L590.8 666.0 L589.2 665.5 L587.5 665.8 L586.5 665.5 L588.0 664.0 L589.2 663.5 L589.8 662.2 L590.8 661.5 L591.2 659.8 L590.2 660.5 L589.8 659.2 L591.0 657.8 L592.5 657.5 L594.0 658.2 L595.2 659.8 L596.5 660.5 L597.8 660.0 L598.8 661.0 L598.5 663.0 L599.2 662.0 L599.5 660.0 L598.8 658.5 L597.2 657.8 L596.0 657.0 L596.5 655.8 L598.0 655.5 L600.0 656.5 L599.2 655.2 L597.5 654.5 L595.5 654.5 L594.5 653.8 L595.0 652.8 L597.0 652.2 L599.8 652.4 L601.5 653.8 L603.0 655.5 L605.0 657.5 L606.8 659.2 L608.0 661.5 L608.8 664.0 L608.0 666.0 L606.2 666.5 L607.2 668.5 L608.0 671.0 L609.5 672.0 L610.0 674.5 L610.0 672.5 L611.2 670.5 L612.0 668.5 L613.2 667.2 L614.5 668.5 L615.5 667.0 L616.0 664.0 L616.2 661.0 L617.0 659.0 L618.5 659.2Z" fill="none" stroke="#000" stroke-width="1.05" stroke-linejoin="round" stroke-linecap="round"/><path d="M500.5 321.5 V890.5 M540.5 321.5 V890.5 M579.5 321.5 V890.5 M619.5 321.5 V890.5 M659.5 321.5 V890.5 M698.5 321.5 V890.5 M738.5 321.5 V890.5 M464.5 444.5 H766.5 M464.5 576.5 H766.5 M464.5 680.5 H766.5 M464.5 766.5 H766.5 M464.5 840.5 H766.5 " fill="none" stroke="#b0b0b0" stroke-width="1.1"/><g fill="none" stroke="#000" stroke-width="1.7" stroke-linecap="butt"><path d="M619.0 682.2 Q620.6 685 621.4 689 M626.5 682.2 V689 M633.8 682.2 L631.4 689 M621.0 689 H631.8 M621.4 689 L618.1 700.3 M631.4 689 L635.2 700.3"/><path d="M617.3 700.5 H623.8 M629.0 700.5 H635.7" stroke-width="2.4"/></g></g><rect x="464.5" y="321.5" width="302.0" height="569.0" fill="none" stroke="#000" stroke-width="1.1"/>
</svg>
<div class="txt">
<div class="logo">Met Office</div>
<div class="t" style="left:387.69px;top:28.78px;font-size:26.25px;color:#000;font-weight:normal;transform:scaleX(1.0777)">Probability of Exceeding 0.2 mg m</div>
<div class="t" style="left:817.67px;top:26.35px;font-size:18.38px;color:#000;font-weight:normal;transform:scaleX(1.1942)">−3</div>
<div class="t" style="left:498.32px;top:64.85px;font-size:23.33px;color:#000;font-weight:normal;transform:scaleX(1.0339)">From FL050 to FL100</div>
<div class="t" style="left:518.89px;top:91.05px;font-size:23.33px;color:#000;font-weight:normal;transform:scaleX(0.9384)">For TORFAJOKULL</div>
<div class="t" style="left:448.30px;top:117.95px;font-size:23.33px;color:#000;font-weight:normal;transform:scaleX(1.0646)">Valid at 1700 UTC 21/12/2025</div>
<div class="t" style="left:366.96px;top:158.55px;font-size:14.58px;color:#000;font-weight:normal;transform:scaleX(1.0714)">This chart displays QVA compliant probabilistic data from VAAC London</div>
<div class="t" style="left:493.31px;top:191.55px;font-size:14.58px;color:#000;font-weight:normal;transform:scaleX(1.0483)">Issue Time: 0800 UTC 21 Dec 2025</div>
<div class="t" style="left:512.81px;top:214.78px;font-size:26.25px;color:#dc0000;font-weight:normal;transform:scaleX(0.9461)">TEST TEST TEST</div>
<div class="t" style="left:973.32px;top:270.65px;font-size:14.58px;color:#000;font-weight:normal;transform:scaleX(0.9886)">(%)</div>
<div class="t" style="left:61.50px;top:962.65px;font-size:14.58px;color:#000;font-weight:normal;transform:scaleX(1.0764)">© Met Office Crown Copyright</div>
<div class="t" style="left:473.63px;top:293.02px;font-size:20.41px;color:#000;font-weight:normal;transform:scaleX(1.0466)">35°W</div>
<div class="t" style="left:473.63px;top:895.12px;font-size:20.41px;color:#000;font-weight:normal;transform:scaleX(1.0466)">35°W</div>
<div class="t" style="left:552.59px;top:293.02px;font-size:20.41px;color:#000;font-weight:normal;transform:scaleX(1.0534)">25°W</div>
<div class="t" style="left:552.59px;top:895.12px;font-size:20.41px;color:#000;font-weight:normal;transform:scaleX(1.0534)">25°W</div>
<div class="t" style="left:631.96px;top:293.02px;font-size:20.41px;color:#000;font-weight:normal;transform:scaleX(1.0480)">15°W</div>
<div class="t" style="left:631.96px;top:895.12px;font-size:20.41px;color:#000;font-weight:normal;transform:scaleX(1.0480)">15°W</div>
<div class="t" style="left:717.64px;top:293.02px;font-size:20.41px;color:#000;font-weight:normal;transform:scaleX(1.0383)">5°W</div>
<div class="t" style="left:717.64px;top:895.12px;font-size:20.41px;color:#000;font-weight:normal;transform:scaleX(1.0383)">5°W</div>
<div class="t" style="left:409.19px;top:431.62px;font-size:20.41px;color:#000;font-weight:normal;transform:scaleX(1.0515)">75°N</div>
<div class="t" style="left:774.39px;top:431.62px;font-size:20.41px;color:#000;font-weight:normal;transform:scaleX(1.0515)">75°N</div>
<div class="t" style="left:409.19px;top:563.62px;font-size:20.41px;color:#000;font-weight:normal;transform:scaleX(1.0515)">70°N</div>
<div class="t" style="left:774.39px;top:563.62px;font-size:20.41px;color:#000;font-weight:normal;transform:scaleX(1.0515)">70°N</div>
<div class="t" style="left:409.19px;top:667.62px;font-size:20.41px;color:#000;font-weight:normal;transform:scaleX(1.0515)">65°N</div>
<div class="t" style="left:774.39px;top:667.62px;font-size:20.41px;color:#000;font-weight:normal;transform:scaleX(1.0515)">65°N</div>
<div class="t" style="left:409.19px;top:753.62px;font-size:20.41px;color:#000;font-weight:normal;transform:scaleX(1.0515)">60°N</div>
<div class="t" style="left:774.39px;top:753.62px;font-size:20.41px;color:#000;font-weight:normal;transform:scaleX(1.0515)">60°N</div>
<div class="t" style="left:408.93px;top:827.62px;font-size:20.41px;color:#000;font-weight:normal;transform:scaleX(1.0437)">55°N</div>
<div class="t" style="left:774.13px;top:827.62px;font-size:20.41px;color:#000;font-weight:normal;transform:scaleX(1.0437)">55°N</div>
<div class="t" style="left:279.03px;top:270.65px;font-size:14.58px;color:#000;font-weight:normal;transform:scaleX(1.0298)">0.1</div>
<div class="t" style="left:347.09px;top:270.65px;font-size:14.58px;color:#000;font-weight:normal;transform:scaleX(1.0035)">10</div>
<div class="t" style="left:412.11px;top:270.65px;font-size:14.58px;color:#000;font-weight:normal;transform:scaleX(1.0148)">20</div>
<div class="t" style="left:477.34px;top:270.65px;font-size:14.58px;color:#000;font-weight:normal;transform:scaleX(0.9998)">30</div>
<div class="t" style="left:542.47px;top:270.65px;font-size:14.58px;color:#000;font-weight:normal;transform:scaleX(0.9980)">40</div>
<div class="t" style="left:607.34px;top:270.65px;font-size:14.58px;color:#000;font-weight:normal;transform:scaleX(0.9998)">50</div>
<div class="t" style="left:672.11px;top:270.65px;font-size:14.58px;color:#000;font-weight:normal;transform:scaleX(1.0148)">60</div>
<div class="t" style="left:737.11px;top:270.65px;font-size:14.58px;color:#000;font-weight:normal;transform:scaleX(1.0148)">70</div>
<div class="t" style="left:802.34px;top:270.65px;font-size:14.58px;color:#000;font-weight:normal;transform:scaleX(0.9998)">80</div>
<div class="t" style="left:867.11px;top:270.65px;font-size:14.58px;color:#000;font-weight:normal;transform:scaleX(1.0148)">90</div>
<div class="t" style="left:927.77px;top:270.65px;font-size:14.58px;color:#000;font-weight:normal;transform:scaleX(1.0235)">100</div>
</div>
</body></html>
